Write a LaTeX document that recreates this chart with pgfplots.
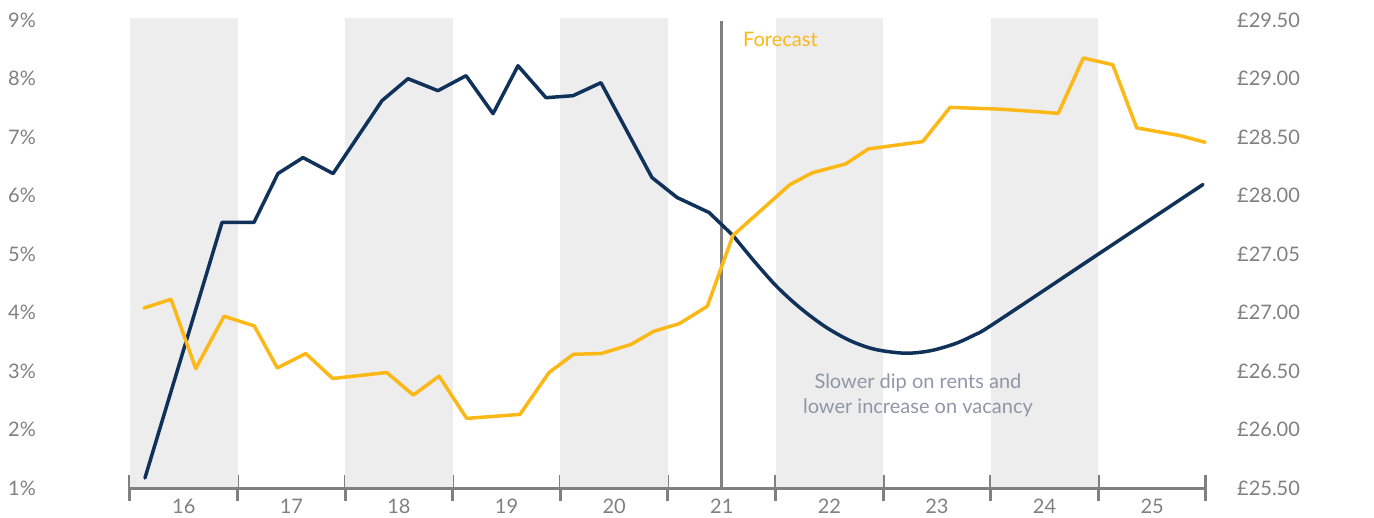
\documentclass[border=0pt]{standalone}
\usepackage{pgfplots}
\pgfplotsset{compat=1.18}
\usepackage{fontspec}
\setmainfont{Lato}
\definecolor{navy}{HTML}{10315A}
\definecolor{gold}{HTML}{FCB817}
\definecolor{band}{HTML}{EDEDED}
\definecolor{axisgray}{HTML}{808080}
\definecolor{labgray}{HTML}{808080}
\definecolor{notegray}{HTML}{8E97A8}
\begin{document}
\begin{tikzpicture}
\path[use as bounding box] (-130pt,-29pt) rectangle (1244pt,488pt);
\begin{axis}[
  at={(0pt,0pt)}, anchor=south west,
  scale only axis, width=1076pt, height=468pt,
  xmin=15.5, xmax=25.5, ymin=1, ymax=9,
  clip=false,
  axis line style={draw=none},
  /pgf/number format/assume math mode=true,
  xtick pos=bottom, ytick pos=left,
  xtick={16,17,18,19,20,21,22,23,24,25},
  xticklabels={16,17,18,19,20,21,22,23,24,25},
  minor xtick={15.5,16.5,17.5,18.5,19.5,20.5,21.5,22.5,23.5,24.5,25.5},
  tick align=center,
  major tick length=0pt,
  minor tick length=26pt,
  minor tick style={draw=axisgray, line width=3pt},
  ytick={1,2,3,4,5,6,7,8,9},
  yticklabels={1\%,2\%,3\%,4\%,5\%,6\%,7\%,8\%,9\%},
  yticklabel style={anchor=west, inner sep=0pt, xshift=-122pt, text=labgray, font=\fontsize{20}{24}\selectfont},
  xticklabel style={anchor=north, inner sep=0pt, yshift=-11pt, text=labgray, font=\fontsize{20}{24}\selectfont},
]
\fill[band] (axis cs:15.5,1) rectangle (axis cs:16.5,9.03);
\fill[band] (axis cs:17.5,1) rectangle (axis cs:18.5,9.03);
\fill[band] (axis cs:19.5,1) rectangle (axis cs:20.5,9.03);
\fill[band] (axis cs:21.5,1) rectangle (axis cs:22.5,9.03);
\fill[band] (axis cs:23.5,1) rectangle (axis cs:24.5,9.03);
\draw[axisgray, line width=3pt] (axis cs:15.5,1) -- (axis cs:25.5,1);
\draw[axisgray, line width=3pt] (axis cs:21,1) -- (axis cs:21,8.99);
\node[anchor=west, inner sep=0pt, text=gold, font=\fontsize{20}{24}\selectfont] at (axis cs:21.197,8.675) {Forecast};
\node[align=center, inner sep=0pt, text=notegray, font=\fontsize{20}{25}\selectfont] at (axis cs:22.823,2.58) {Slower dip on rents and\\lower increase on vacancy};
\addplot[navy, line width=3.5pt, line join=round, line cap=round] coordinates {
(15.639,1.171) (16.355,5.539) (16.652,5.539) (16.875,6.375) (17.108,6.648)
(17.387,6.375) (17.842,7.621) (18.084,7.997) (18.362,7.792) (18.623,8.048)
(18.874,7.399) (19.106,8.218) (19.366,7.672) (19.617,7.706) (19.877,7.928)
(20.351,6.307) (20.584,5.966) (20.881,5.710) (21.104,5.317)
};
\addplot[navy, line width=3.5pt, line join=round, line cap=round, smooth] coordinates {
(21.104,5.317) (21.309,4.860) (21.513,4.440) (21.727,4.080) (21.959,3.760)
(22.191,3.520) (22.424,3.370) (22.703,3.304) (22.935,3.345) (23.167,3.466)
(23.353,3.621) (23.520,3.799) (24.515,5.017) (25.472,6.188)
};
\end{axis}
\begin{axis}[
  at={(0pt,0pt)}, anchor=south west,
  scale only axis, width=1076pt, height=468pt,
  xmin=15.5, xmax=25.5, ymin=25.5, ymax=29.5,
  clip=false,
  axis line style={draw=none},
  hide x axis,
  major tick length=0pt,
  ytick pos=right,
  yticklabel pos=right,
  ytick={25.5,26,26.5,27,27.5,28,28.5,29,29.5},
  yticklabels={£25.50,£26.00,£26.50,£27.00,£27.05,£28.00,£28.50,£29.00,£29.50},
  yticklabel style={anchor=west, inner sep=0pt, xshift=31pt, text=labgray, font=\fontsize{20}{24}\selectfont},
]
\addplot[gold, line width=3.5pt, line join=round, line cap=round] coordinates {
(15.630,27.038) (15.881,27.113) (16.111,26.521) (16.374,26.968) (16.655,26.885)
(16.869,26.526) (17.133,26.649) (17.384,26.436) (17.886,26.487) (18.133,26.294)
(18.372,26.456) (18.629,26.095) (19.124,26.129) (19.394,26.487) (19.620,26.643)
(19.877,26.649) (20.153,26.726) (20.370,26.840) (20.605,26.905) (20.865,27.053)
(21.104,27.659) (21.634,28.094) (21.841,28.194) (22.151,28.270) (22.362,28.398)
(22.867,28.461) (23.121,28.753) (23.586,28.738) (23.864,28.721) (24.127,28.702)
(24.360,29.175) (24.633,29.118) (24.856,28.578) (25.258,28.512) (25.491,28.455)
};
\end{axis}
\end{tikzpicture}
\end{document}
